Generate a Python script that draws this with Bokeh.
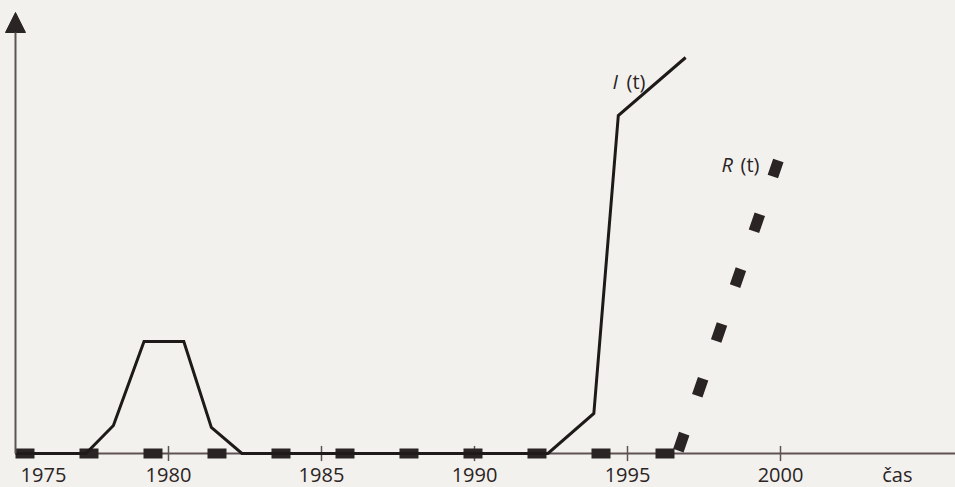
from bokeh.plotting import figure
from bokeh.models import Range1d, Arrow, NormalHead, Label
from bokeh.core.properties import value
from bokeh.embed import file_html
from bokeh.resources import INLINE

# ---- data ----
years_I = [1975, 1977.3, 1978.2, 1979.2, 1980.5, 1981.4, 1982.4, 1992.4, 1993.9, 1994.7, 1996.9]
vals_I = [0, 0, 7, 28, 28, 6.5, 0, 0, 10, 84.5, 99]

years_R = [1975, 1996.63, 1999.93]
vals_R = [0, 0, 73.25]

tick_years = [1980, 1985, 1990, 1995, 2000]
tick_labels = ["1980", "1985", "1990", "1995", "2000"]
first_label = "1975"
axis_label = "čas"

BG = "#f3f1ee"
INK = "#2a2424"
GREY = "#5e5353"
FONT = value("Open Sans")

X0, X1 = 1974.510, 2005.719
Y0, Y1 = -8.5, 113.25

p = figure(width=955, height=487, x_range=Range1d(X0, X1), y_range=Range1d(Y0, Y1),
           output_backend="svg", toolbar_location=None, min_border=0,
           background_fill_color=BG, border_fill_color=BG, outline_line_color=None)
p.axis.visible = False
p.grid.visible = False

# x axis line and ticks
p.line([years_R[0], X1], [0, 0], line_color=GREY, line_width=2)
p.segment(x0=tick_years, y0=[-1.9] * len(tick_years), x1=tick_years, y1=[1.9] * len(tick_years),
          line_color=GREY, line_width=1.5)

# y axis with arrow
p.add_layout(Arrow(end=NormalHead(size=20, fill_color=INK, line_color=INK, line_width=1),
                   x_start=years_R[0], y_start=0, x_end=years_R[0], y_end=110.25,
                   line_color=GREY, line_width=2))

# R(t): thick dashed line (flat part, rising part)
p.line(years_R[:2], vals_R[:2], line_color=INK, line_width=10, line_dash="19 45", line_cap="butt")
p.line(years_R[1:], vals_R[1:], line_color=INK, line_width=11, line_dash="18 40",
       line_dash_offset=55, line_cap="butt")

# I(t): thin solid line
p.line(years_I, vals_I, line_color="#1e1a1a", line_width=3, line_join="miter")

# tick labels
TY = -5.3
p.text(x=tick_years, y=[TY] * len(tick_years), text=tick_labels, text_align="center",
       text_baseline="alphabetic", text_font=FONT, text_font_size="20px", text_color=INK)
p.text(x=[years_R[0]], y=[TY], text=[first_label], x_offset=28, text_align="center",
       text_baseline="alphabetic", text_font=FONT, text_font_size="20px", text_color=INK)
p.text(x=[2003.82], y=[TY], text=[axis_label], text_align="center",
       text_baseline="alphabetic", text_font=FONT, text_font_size="20px", text_color=INK)

# series labels
def series_label(x, y, letter):
    p.add_layout(Label(x=x, y=y, x_units="screen", y_units="screen", text=letter,
                       text_font="Open Sans", text_font_style="italic", text_font_size="20px",
                       text_color=INK, text_baseline="middle"))
    p.add_layout(Label(x=x + (14 if letter == "I" else 19), y=y, x_units="screen", y_units="screen",
                       text="(t)", text_font="Open Sans", text_font_size="20px",
                       text_color=INK, text_baseline="middle"))

series_label(612, 406, "I")
series_label(721, 323, "R")

html = file_html(p, INLINE).replace("<body>", '<body style="background-color:%s;">' % BG)
open("out.html", "w").write(html)
